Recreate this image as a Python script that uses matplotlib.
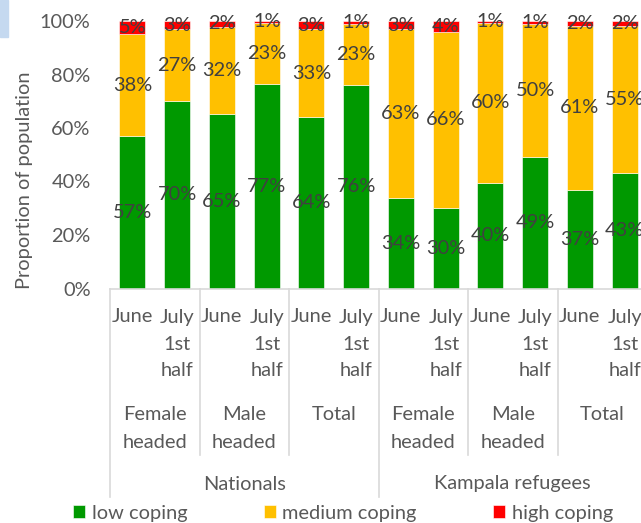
import matplotlib.pyplot as plt
import matplotlib.transforms as mtransforms
from matplotlib.patches import Rectangle
from matplotlib.ticker import PercentFormatter

# coping categories, share of population (%) per bar
periods = ["June", "July\n1st\nhalf"] * 6
groups = ["Female\nheaded", "Male\nheaded", "Total",
          "Female\nheaded", "Male\nheaded", "Total"]
populations = ["Nationals", "Kampala refugees"]

low = [57, 70, 65.4, 76.6, 64, 76, 34, 30, 39.6, 49, 37, 43]
medium = [38, 27, 32.4, 22.8, 33, 23, 63, 66, 59.8, 50, 61, 55]
high = [5, 3, 2.2, 0.6, 3, 1, 3, 4, 0.6, 1, 2, 2]

series = [("low coping", low, "#009900"),
          ("medium coping", medium, "#FFC000"),
          ("high coping", high, "#FF0000")]

plt.rcParams['font.family'] = ['Lato', 'DejaVu Sans']
FS = 14.4
TXT = "#595959"
LBL = "#404040"
GRID = "#D9D9D9"

W, H = 641, 523
fig = plt.figure(figsize=(W / 100, H / 100), dpi=100)

def fy(py):
    return 1 - py / H

ax_left, ax_right, ax_top, ax_bot = 110, 647, 21, 288.5
ax = fig.add_axes([ax_left / W, fy(ax_bot), (ax_right - ax_left) / W,
                   (ax_bot - ax_top) / H])

x = list(range(len(low)))
bottom = [0] * len(x)
for name, vals, col in series:
    ax.bar(x, [v / 100 for v in vals], 0.58, bottom=bottom, color=col,
           edgecolor="white", linewidth=0.4, label=name)
    for i, v in enumerate(vals):
        ax.text(i, bottom[i] + v / 200, f"{v:.0f}%", ha="center", va="center",
                fontsize=FS, color=LBL)
    bottom = [b + v / 100 for b, v in zip(bottom, vals)]

ax.set_xlim(-0.5, len(x) - 0.5)
ax.set_ylim(0, 1)
ax.set_yticks([0, 0.2, 0.4, 0.6, 0.8, 1.0])
ax.yaxis.set_major_formatter(PercentFormatter(1, decimals=0))
ax.tick_params(axis="y", length=0, pad=14, labelsize=FS, labelcolor=TXT)
ax.set_xticks([])
for s in ["top", "right", "left"]:
    ax.spines[s].set_visible(False)
ax.spines["bottom"].set_color(GRID)
ax.spines["bottom"].set_linewidth(1.2)

trans = mtransforms.blended_transform_factory(ax.transData, fig.transFigure)

# period labels
for i, p in enumerate(periods):
    for k, line in enumerate(p.split("\n")):
        ax.text(i, fy(317 + 27 * k), line, transform=trans, ha="center",
                va="center", fontsize=FS, color=TXT)

# group labels
for g, name in enumerate(groups):
    for k, line in enumerate(name.split("\n")):
        ax.text(2 * g + 0.5, fy(414 + 28 * k), line, transform=trans,
                ha="center", va="center", fontsize=FS, color=TXT)

# population labels
for j, name in enumerate(populations):
    ax.text(6 * j + 2.5, fy(484), name, transform=trans, ha="center",
            va="center", fontsize=FS, color=TXT)

# separators
for g in range(7):
    xs = 2 * g - 0.5
    y_end = 497 if g % 3 == 0 else 455
    ax.plot([xs, xs], [fy(ax_bot), fy(y_end)], transform=trans, color=GRID,
            lw=1.2, clip_on=False)

fig.text(25 / W, fy(180), "Proportion of population", rotation=90,
         ha="center", va="center", fontsize=FS, color=TXT)

leg = fig.legend(loc="center", bbox_to_anchor=(343 / W, fy(513)), ncol=3,
                 frameon=False, fontsize=FS, handlelength=0.6,
                 handleheight=0.6, handletextpad=0.35, columnspacing=3.8,
                 borderaxespad=0)
for t in leg.get_texts():
    t.set_color(TXT)

fig.patches.append(Rectangle((0, fy(37)), 8 / W, 37 / H,
                             transform=fig.transFigure, color="#C5D9F0"))

fig.savefig("out.png", dpi=100)
